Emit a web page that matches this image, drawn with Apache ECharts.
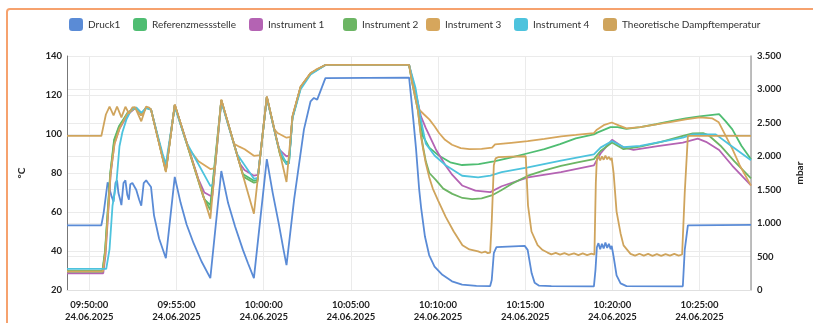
<!DOCTYPE html>
<html>
<head>
<meta charset="utf-8">
<script src="https://cdn.jsdelivr.net/npm/echarts@6/dist/echarts.min.js"></script>
<style>
html,body{margin:0;padding:0;background:#fff;overflow:hidden;}
#frame{position:absolute;left:6px;top:8px;width:900px;height:500px;border:2px solid #f6a26e;border-radius:4px;box-sizing:border-box;}
#chart{position:absolute;left:0;top:0;width:813px;height:323px;}
</style>
</head>
<body>
<div id="frame"></div>
<div id="chart"></div>
<script>
// time in minutes after 09:50:00 on 24.06.2025
const seriesNames = ['Druck1','Referenzmessstelle','Instrument 1','Instrument 2','Instrument 3','Instrument 4','Theoretische Dampftemperatur'];
const tempTicks = [20,40,60,80,100,120,140];
const pressTicks = [0,500,1000,1500,2000,2500,3000,3500];

const druck1 = [
[-1.28,968],[0.69,968],[0.82,1150],[1.05,1610],[1.16,1630],[1.28,1400],[1.39,1320],[1.50,1600],[1.59,1640],[1.67,1450],[1.79,1330],[1.84,1270],[1.96,1600],[2.07,1640],[2.18,1420],[2.27,1350],[2.35,1580],[2.47,1600],[2.58,1610],[2.69,1500],[2.86,1350],[2.98,1260],[3.12,1600],[3.26,1640],[3.37,1600],[3.46,1620],[3.54,1540],
[3.71,1117],[4.0,771],[4.39,475],[4.90,1691],[5.24,1300],[5.58,980],[5.98,700],[6.43,430],[6.94,178],[7.57,1780],[7.96,1300],[8.36,950],[8.81,600],[9.1,400],[9.44,178],[10.18,1958],[10.52,1450],[10.86,1000],[11.14,600],[11.31,371],[11.37,375],[11.75,1364],[12.31,2402],[12.69,2822],[12.88,2872],[13.07,2847],[13.54,3169],[18.34,3178],
[18.45,2900],[18.6,2500],[18.74,2106],[18.92,1500],[19.03,1230],[19.25,800],[19.49,523],[19.8,350],[20.25,227],[20.8,130],[21.38,79],[22.2,62],[22.99,59],[23.08,150],[23.2,550],[23.35,640],[23.44,652],[24.97,660],[25.14,600],[25.37,250],[25.54,110],[25.8,65],[26.5,58],[28.94,55],
[29.03,300],[29.11,640],[29.2,700],[29.3,610],[29.4,690],[29.5,620],[29.6,710],[29.7,630],[29.8,690],[29.9,610],[29.96,660],[30.07,500],[30.24,220],[30.47,100],[30.81,58],[34.04,55],[34.15,600],[34.33,968],[37.95,975]
];

const referenz = [
[-1.28,29.8],[0.75,29.8],[0.9,40],[1.2,80],[1.42,97],[1.7,104],[1.95,107.5],[2.2,111],[2.47,112.5],[2.65,113.5],[2.98,110],[3.26,113.6],[3.54,112.5],[4.39,81.5],[4.90,114.8],[6.60,66.5],[6.94,63.5],[7.02,64],[7.57,117.3],[8.8,79.5],[9.44,76],[9.65,76.5],[10.18,119],[10.95,89.3],[11.31,85.5],[11.45,86],[11.65,108.5],[12.12,124],[12.69,131],[13.54,135.4],[18.34,135.4],
[18.55,126],[18.9,112],[19.13,99],[19.5,93],[20.06,88.8],[20.7,85.5],[21.38,84.1],[22.33,84.6],[23.2,86],[24.22,88],[25.1,90],[26.1,92.2],[27.0,94.8],[27.9,97.8],[28.94,99.8],[29.13,100.7],[29.89,103.5],[30.3,103.5],[30.8,102.6],[31.6,103.5],[32.5,105],[33.5,106.8],[34.2,108],[35.0,109],[36.12,110.2],[36.5,106.5],[36.88,102.4],[37.4,94],[37.95,87.1]
];

const instrument1 = [
[-1.28,28.6],[0.80,28.6],[0.93,38],[1.22,79],[1.44,95],[1.72,102.5],[1.98,106.5],[2.2,110],[2.5,112.3],[2.65,113.5],[2.98,109.5],[3.26,113.6],[3.54,112.5],[4.39,81.5],[4.90,114.8],[6.25,77],[6.6,70],[6.94,68.3],[7.06,68.5],[7.57,117.3],[8.62,85],[8.9,81.5],[9.44,78.6],[9.68,79],[10.18,119],[10.72,98],[10.9,92],[11.31,88.5],[11.48,89],[11.65,108.5],[12.12,124],[12.69,131],[13.54,135.4],[18.34,135.4],
[18.7,122],[19.02,109],[19.3,103],[19.87,92.2],[20.44,83.7],[20.82,79],[21.38,73.6],[22.14,71],[23.0,70.2],[23.65,73.2],[25.16,77.8],[27.05,80.4],[28.94,83.9],[29.32,90],[29.98,97],[30.64,93.1],[31.21,91.9],[32.6,93.8],[34.04,95.6],[34.9,97.6],[35.37,96],[36.12,91.8],[36.88,83.7],[37.95,73.6]
];

const instrument2 = [
[-1.28,29.4],[0.76,29.4],[0.91,40],[1.21,80],[1.43,96.5],[1.7,103.5],[1.95,107],[2.2,110.5],[2.5,112.5],[2.65,113.5],[2.98,109.5],[3.26,113.6],[3.54,112.5],[4.39,81],[4.90,114.8],[6.55,67.5],[6.94,61],[6.99,61.5],[7.57,117.3],[8.85,78],[9.44,75],[9.64,75.5],[10.18,119],[10.95,89],[11.31,84.5],[11.45,85],[11.65,108.5],[12.12,124],[12.69,131],[13.54,135.4],[18.34,135.4],
[18.5,127],[18.85,112],[19.0,101],[19.15,93],[19.3,86],[19.5,80],[19.87,76.5],[20.3,72],[20.82,69.3],[21.4,67.2],[21.95,66.6],[22.5,67],[23.08,68.5],[23.6,71],[24.22,74.4],[25.16,78.6],[26.1,81.3],[27.05,83.7],[28.0,85.5],[28.94,87.1],[29.32,91.3],[29.98,95.6],[30.64,92.2],[31.6,93.5],[32.8,96],[34.04,99],[34.61,100.3],[35.2,100.5],[35.5,99.5],[36.2,94],[37.0,86],[37.95,77.3]
];

const instrument3 = [
[-1.28,29.6],[0.78,29.6],[0.92,39],[1.22,80],[1.45,95],[1.74,103],[1.98,107],[2.2,110.5],[2.5,112.5],[2.65,113.5],[2.98,109.5],[3.26,113.6],[3.54,112.5],[4.39,81],[4.90,115],[5.45,99],[5.70,92.5],[6.26,86],[6.94,82],[7.2,82.5],[7.57,117.5],[8.3,95],[8.6,93.5],[8.91,92.2],[9.44,88.8],[9.81,89.2],[10.18,119],[10.6,102.5],[10.8,100.5],[11.31,98.1],[11.56,98.5],[11.65,109],[12.12,124.2],[12.69,131.2],[13.54,135.4],[18.34,135.4],
[18.6,125],[18.92,112.5],[19.2,110],[19.5,107.5],[19.8,104],[20.06,100.5],[20.4,97],[20.8,94.5],[21.3,92.8],[21.8,92.2],[22.5,92.4],[23.1,93],[23.27,94.7],[24.2,95.5],[25.14,96.3],[26.1,97.5],[27.07,98.8],[27.9,99.5],[28.94,100.5],[29.11,102.2],[29.5,104.5],[29.96,105.9],[30.4,104.3],[30.81,102.9],[31.6,103.5],[32.51,104.9],[33.4,106.2],[34.21,107.5],[35.01,108.5],[35.74,108],[36.1,106],[36.5,99],[36.9,92],[37.3,84],[37.95,73.5]
];

const instrument4 = [
[-1.28,30.8],[0.97,30.8],[1.16,41],[1.33,63.2],[1.56,75.4],[1.73,93.7],[1.9,101],[2.13,107.5],[2.41,112.5],[2.69,113.6],[2.98,111],[3.26,113.3],[3.54,112.5],[3.9,100],[4.2,90],[4.39,84.5],[4.45,85],[4.90,114],[5.55,96],[6.94,73.4],[7.11,74],[7.57,116.5],[8.45,90],[9.44,77],[9.66,77.5],[10.18,118.5],[10.82,94],[11.31,84.5],[11.45,85],[11.65,108],[12.12,123],[12.69,130.5],[13.54,135.4],[18.34,135.4],
[18.7,124],[19.0,108],[19.3,95],[19.8,89],[20.44,84],[21.38,78.6],[22.3,77.8],[23.0,78.6],[23.65,80.4],[25.16,82.9],[27.05,86.3],[28.94,89.5],[29.32,93],[29.98,96.4],[30.64,93.3],[31.59,93.9],[34.04,98.1],[34.61,99.8],[35.93,99.8],[36.69,94.7],[37.95,86.5]
];

const theoretisch = [
[-1.28,99],[0.69,99],[0.77,102.4],[0.95,110],[1.16,114.1],[1.39,109.5],[1.59,114.1],[1.84,108.5],[2.07,114],[2.27,110.5],[2.47,113.6],[2.62,113.8],[2.98,106.5],[3.26,114.1],[3.43,113.6],[3.54,112.5],
[3.95,97],[4.39,80.5],[4.90,115.1],[6.94,56.6],[7.57,117.6],[9.44,59.1],[10.18,119.2],[11.31,75.4],[11.37,75.4],[11.65,109.1],[12.12,124.4],[12.69,131.2],[13.0,133],[13.54,135.4],[18.34,135.4],
[18.5,127],[18.85,112],[19.0,100],[19.15,92],[19.3,85],[19.49,78],[19.7,72],[20.0,66],[20.44,57.5],[20.9,50],[21.4,43],[21.8,40.8],[22.3,39.8],[22.5,39.1],[22.7,39.7],[22.85,38.9],[22.99,39.2],
[23.08,55],[23.2,84],[23.3,87.5],[23.44,88.1],[24.2,88.4],[25.03,88.6],[25.16,63.4],[25.36,50],[25.71,43],[26.0,40.5],[26.28,39.2],[26.5,38.3],[26.75,39.0],[27.0,38.1],[27.25,38.9],[27.5,38.0],[27.8,38.8],[28.05,37.9],[28.3,38.8],[28.55,37.9],[28.8,38.6],[28.97,38.2],
[29.05,75],[29.11,87.5],[29.2,88.8],[29.3,86.5],[29.4,88.5],[29.5,86.8],[29.6,88.9],[29.7,87.0],[29.8,88.3],[29.9,86.6],[29.96,87.8],
[30.07,80],[30.24,60.2],[30.47,49],[30.64,42.9],[31.04,38.5],[31.3,37.6],[31.55,38.6],[31.8,37.6],[32.05,38.5],[32.3,37.5],[32.55,38.4],[32.8,37.5],[33.05,38.4],[33.3,37.6],[33.55,38.5],[33.8,37.6],[34.0,38.2],
[34.15,70],[34.33,99],[37.95,99]
];

const colors = ['#5a8bd6','#4fbd72','#b463b3','#6cb564','#d6a65c','#4dc3dd','#cfa45c'];
const dataSets = [druck1, referenz, instrument1, instrument2, instrument3, instrument4, theoretisch];

const base = new Date(2025,5,24,9,50,0).getTime();
const toTs = arr => arr.map(p => [base + p[0]*60000, p[1]]);
const pad = n => String(n).padStart(2,'0');
function fmtTime(v){
  const d = new Date(v);
  return pad(d.getHours())+':'+pad(d.getMinutes())+':'+pad(d.getSeconds())+'\n'+pad(d.getDate())+'.'+pad(d.getMonth()+1)+'.'+d.getFullYear();
}
function fmtP(v){
  if (v >= 1000) return Math.floor(v/1000)+'.'+String(v%1000).padStart(3,'0');
  return String(v);
}

const legendLefts = [69,133,249,343,426,514,603];
const FONT = 'Lato, "Open Sans", sans-serif';

const chart = echarts.init(document.getElementById('chart'));
chart.setOption({
  animation:false,
  color: colors,
  textStyle:{fontFamily:FONT},
  legend: seriesNames.map((n,i)=>({
    data:[n], left:legendLefts[i], top:18, padding:0, itemWidth:14, itemHeight:13, icon:'roundRect', itemGap:0,
    textStyle:{fontSize:10, color:'#333', fontFamily:FONT}, selectedMode:false
  })),
  grid:{left:67, right:54, top:56, bottom:31, containLabel:false},
  xAxis:{
    type:'time',
    min: base - 1.28*60000,
    max: base + 37.95*60000,
    splitNumber: 7,
    axisLine:{show:true, lineStyle:{color:'#e0e0e0'}},
    axisTick:{show:false},
    splitLine:{show:true, lineStyle:{color:'#ebebeb'}},
    axisLabel:{formatter:fmtTime, color:'#222', fontWeight:'bold', fontSize:9.5, lineHeight:12, margin:9, showMinLabel:false, showMaxLabel:false, hideOverlap:false, align:'center'}
  },
  yAxis:[
    {type:'value', min:20, max:140, interval:20, name:'°C', nameLocation:'middle', nameGap:40, nameRotate:90,
     nameTextStyle:{fontWeight:'bold', fontSize:10, color:'#222'},
     axisLine:{show:true, lineStyle:{color:'#777'}}, axisTick:{show:false},
     splitLine:{lineStyle:{color:'#ebebeb'}},
     axisLabel:{color:'#222', fontWeight:'bold', fontSize:9.5, margin:5}},
    {type:'value', min:0, max:3500, interval:500, name:'mbar', nameLocation:'middle', nameGap:44, nameRotate:90,
     nameTextStyle:{fontWeight:'bold', fontSize:10, color:'#222'},
     axisLine:{show:true, lineStyle:{color:'#aaa', width:1.5}}, axisTick:{show:false},
     splitLine:{show:true, lineStyle:{color:'#ebebeb'}},
     axisLabel:{color:'#222', fontWeight:'bold', fontSize:9.5, margin:6, formatter:fmtP}}
  ],
  series: seriesNames.map((n,i)=>({
    name:n, type:'line', yAxisIndex: i===0 ? 1 : 0,
    data: toTs(dataSets[i]), showSymbol:false, symbol:'none',
    lineStyle:{width:1.8, color:colors[i]}, itemStyle:{color:colors[i]}
  }))
});
</script>
</body>
</html>
